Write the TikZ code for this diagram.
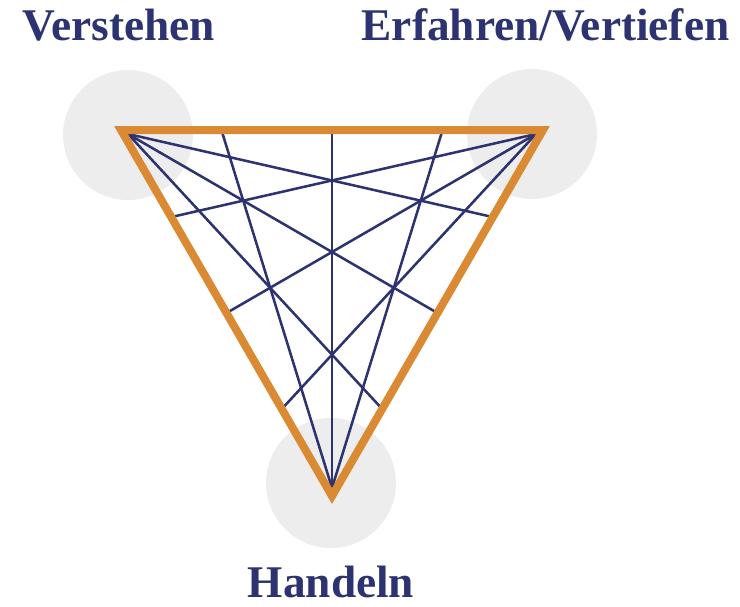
\documentclass[tikz,border=0pt]{standalone}
\usepackage{fontspec}
\setmainfont{Liberation Serif}
\usetikzlibrary{calc}
\definecolor{ink}{HTML}{2C3370}
\definecolor{rim}{HTML}{D98A33}
\definecolor{disc}{HTML}{EDEDED}
\newcommand{\pole}[1]{{\fontsize{34}{36}\selectfont\bfseries #1}}

\begin{document}
\begin{tikzpicture}[
  x=0.75pt, y=-0.75pt,
  every node/.style={inner sep=0pt, outer sep=0pt, text=ink},
  halo/.style={circle, fill=disc, minimum size=97.5pt},
  chord/.style={draw=ink, line width=1.9pt, shorten >=-2.5pt},
  frame/.style={draw=rim, line width=6pt, line join=miter},
  label/.style={anchor=base},
]
\useasboundingbox (0,0) rectangle (740,607);

% ---------------------------------------------------------------- discs
\node[halo] (hA) at (128,135) {};
\node[halo] (hB) at (532,134) {};
\node[halo] (hC) at (331,483) {};

% ---------------------------------------------------------------- corners
\coordinate (A) at (128,134);   % inner corners, where chords meet
\coordinate (B) at (536,134);
\coordinate (C) at (332,488);
\coordinate (oA) at (121,130);  % stroke centre line of the frame
\coordinate (oB) at (543,130);
\coordinate (oC) at (332,496);

% ---------------------------------------------------------------- chords
\foreach \t in {0.232,0.5,0.768} {
  \draw[chord] (A) -- ($(B)!\t!(C)$);
  \draw[chord] (B) -- ($(A)!\t!(C)$);
  \draw[chord] (C) -- ($(A)!\t!(B)$);
}

% ---------------------------------------------------------------- frame
\draw[frame] (oA) -- (oB) -- (oC) -- cycle;

% ---------------------------------------------------------------- labels
\node[label] (lA) at (119,40)   {\pole{Verstehen}};
\node[label] (lB) at (545.5,40) {\pole{Erfahren/Vertiefen}};
\node[label] (lC) at (331,597)  {\pole{Handeln}};

\end{tikzpicture}
\end{document}
